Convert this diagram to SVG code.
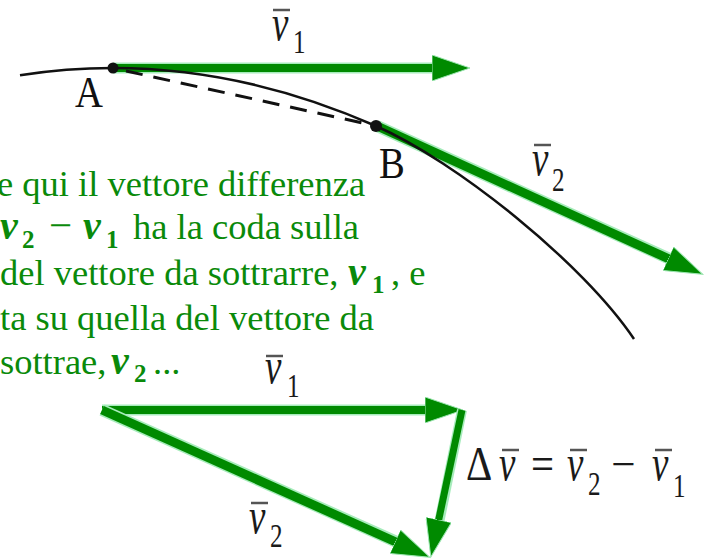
<svg xmlns="http://www.w3.org/2000/svg" width="710" height="560" viewBox="0 0 710 560">
<defs>
<marker id="ah" markerUnits="userSpaceOnUse" viewBox="0 0 40 26" markerWidth="40" markerHeight="26" refX="13" refY="13" orient="auto">
<path d="M0,0 L38,13 L0,26 Z" fill="#008a00" stroke="#9be6b0" stroke-width="1"/>
</marker>
<style>
.g{stroke:#008a00;fill:none}
.ge{stroke:#a6ecbb;fill:none}
.curve{stroke:#111;stroke-width:2.5;fill:none}
.dash{stroke:#111;stroke-width:3;fill:none;stroke-dasharray:17 11}
.dot{fill:#111}
.note{font-family:'Liberation Serif','DejaVu Serif',serif;font-size:36.5px;fill:#0a8a0a}
.m{font-weight:bold;font-style:italic;font-size:40px}
.s{font-weight:bold;font-size:25px}
.mi{font-size:41px}
.lv{font-family:'Liberation Serif','DejaVu Serif',serif;font-style:italic;font-size:50px;fill:#1a1a1a}
.ld{font-family:'Liberation Serif','DejaVu Serif',serif;font-size:34px;fill:#1a1a1a}
.lo{font-family:'Liberation Serif','DejaVu Serif',serif;font-size:48px;fill:#1a1a1a}
.bar{stroke:#555;stroke-width:2.5}
.pt{font-family:'Liberation Serif','DejaVu Serif',serif;font-size:45px;fill:#111}
</style>
</defs>
<rect width="710" height="560" fill="#fff"/>

<g id="connectors">
  <line class="ge" x1="113" y1="68" x2="446" y2="68" stroke-width="11"/>
  <line class="g" x1="113" y1="68" x2="445" y2="68" stroke-width="8" marker-end="url(#ah)"/>
  <line class="ge" x1="377" y1="126" x2="681" y2="264" stroke-width="12"/>
  <line class="g" x1="377" y1="126" x2="680" y2="264" stroke-width="9" marker-end="url(#ah)"/>
  <path class="curve" d="M20,75.2 Q198,47.5 376,126 C456,161.3 583,263 634,339"/>
  <line class="dash" x1="126" y1="71" x2="372" y2="125"/>
  <line class="ge" x1="102" y1="410" x2="439" y2="410" stroke-width="11"/>
  <line class="g" x1="102" y1="410" x2="438" y2="410" stroke-width="8" marker-end="url(#ah)"/>
  <line class="ge" x1="102" y1="410" x2="408" y2="547" stroke-width="12"/>
  <line class="g" x1="102" y1="410" x2="407" y2="547" stroke-width="9" marker-end="url(#ah)"/>
  <line class="ge" x1="462" y1="410" x2="437" y2="533" stroke-width="10"/>
  <line class="g" x1="462" y1="410" x2="436" y2="532.5" stroke-width="7" marker-end="url(#ah)"/>
</g>

<g id="node-A">
  <circle class="dot" cx="113" cy="68" r="5.5"/>
  <text class="pt" transform="translate(75,107) scale(0.86,1)">A</text>
</g>
<g id="node-B">
  <circle class="dot" cx="376" cy="126" r="6"/>
  <text class="pt" transform="translate(379,178) scale(0.86,1)">B</text>
</g>

<g id="label-v1-top">
  <line class="bar" x1="273" y1="10" x2="290" y2="10"/>
  <text class="lv" transform="translate(272,40) scale(0.74,1)">v</text>
  <text class="ld" transform="translate(293,53) scale(0.74,1)">1</text>
</g>
<g id="label-v2-top">
  <line class="bar" x1="534" y1="145" x2="551" y2="145"/>
  <text class="lv" transform="translate(532,175) scale(0.74,1)">v</text>
  <text class="ld" transform="translate(552,191) scale(0.74,1)">2</text>
</g>
<g id="label-v1-bottom">
  <line class="bar" x1="266" y1="356" x2="283" y2="356"/>
  <text class="lv" transform="translate(265,383) scale(0.74,1)">v</text>
  <text class="ld" transform="translate(287,397) scale(0.74,1)">1</text>
</g>
<g id="label-v2-bottom">
  <line class="bar" x1="251" y1="503" x2="268" y2="503"/>
  <text class="lv" transform="translate(249,533) scale(0.74,1)">v</text>
  <text class="ld" transform="translate(270,547) scale(0.74,1)">2</text>
</g>
<g id="label-dv">
  <text class="lo" transform="translate(466,480) scale(0.85,1)">Δ</text>
  <line class="bar" x1="502" y1="450" x2="519" y2="450"/>
  <text class="lv" transform="translate(499,480) scale(0.74,1)">v</text>
  <text class="lo" transform="translate(531,480) scale(0.85,1)">=</text>
  <line class="bar" x1="570" y1="450" x2="587" y2="450"/>
  <text class="lv" transform="translate(567,480) scale(0.74,1)">v</text>
  <text class="ld" transform="translate(588,495) scale(0.74,1)">2</text>
  <text class="lo" transform="translate(611,480) scale(0.9,1)">−</text>
  <line class="bar" x1="655" y1="450" x2="672" y2="450"/>
  <text class="lv" transform="translate(652,480) scale(0.74,1)">v</text>
  <text class="ld" transform="translate(673,497) scale(0.74,1)">1</text>
</g>

<g id="note" class="note">
  <text x="-3" y="196">e qui il vettore differenza</text>
  <text y="239"><tspan class="m" x="0">v</tspan><tspan class="s" x="22" y="248">2</tspan><tspan class="mi" x="49" y="239">−</tspan><tspan class="m" x="83">v</tspan><tspan class="s" x="106" y="248">1</tspan><tspan x="133" y="239">ha la coda sulla</tspan></text>
  <text y="285"><tspan x="0">del vettore da sottrarre,</tspan><tspan class="m" x="348">v</tspan><tspan class="s" x="372" y="293">1</tspan><tspan x="391" y="285">, e</tspan></text>
  <text x="0" y="330">ta su quella del vettore da</text>
  <text y="374"><tspan x="0">sottrae,</tspan><tspan class="m" x="111">v</tspan><tspan class="s" x="134" y="382">2</tspan><tspan x="153" y="374">...</tspan></text>
</g>
</svg>
